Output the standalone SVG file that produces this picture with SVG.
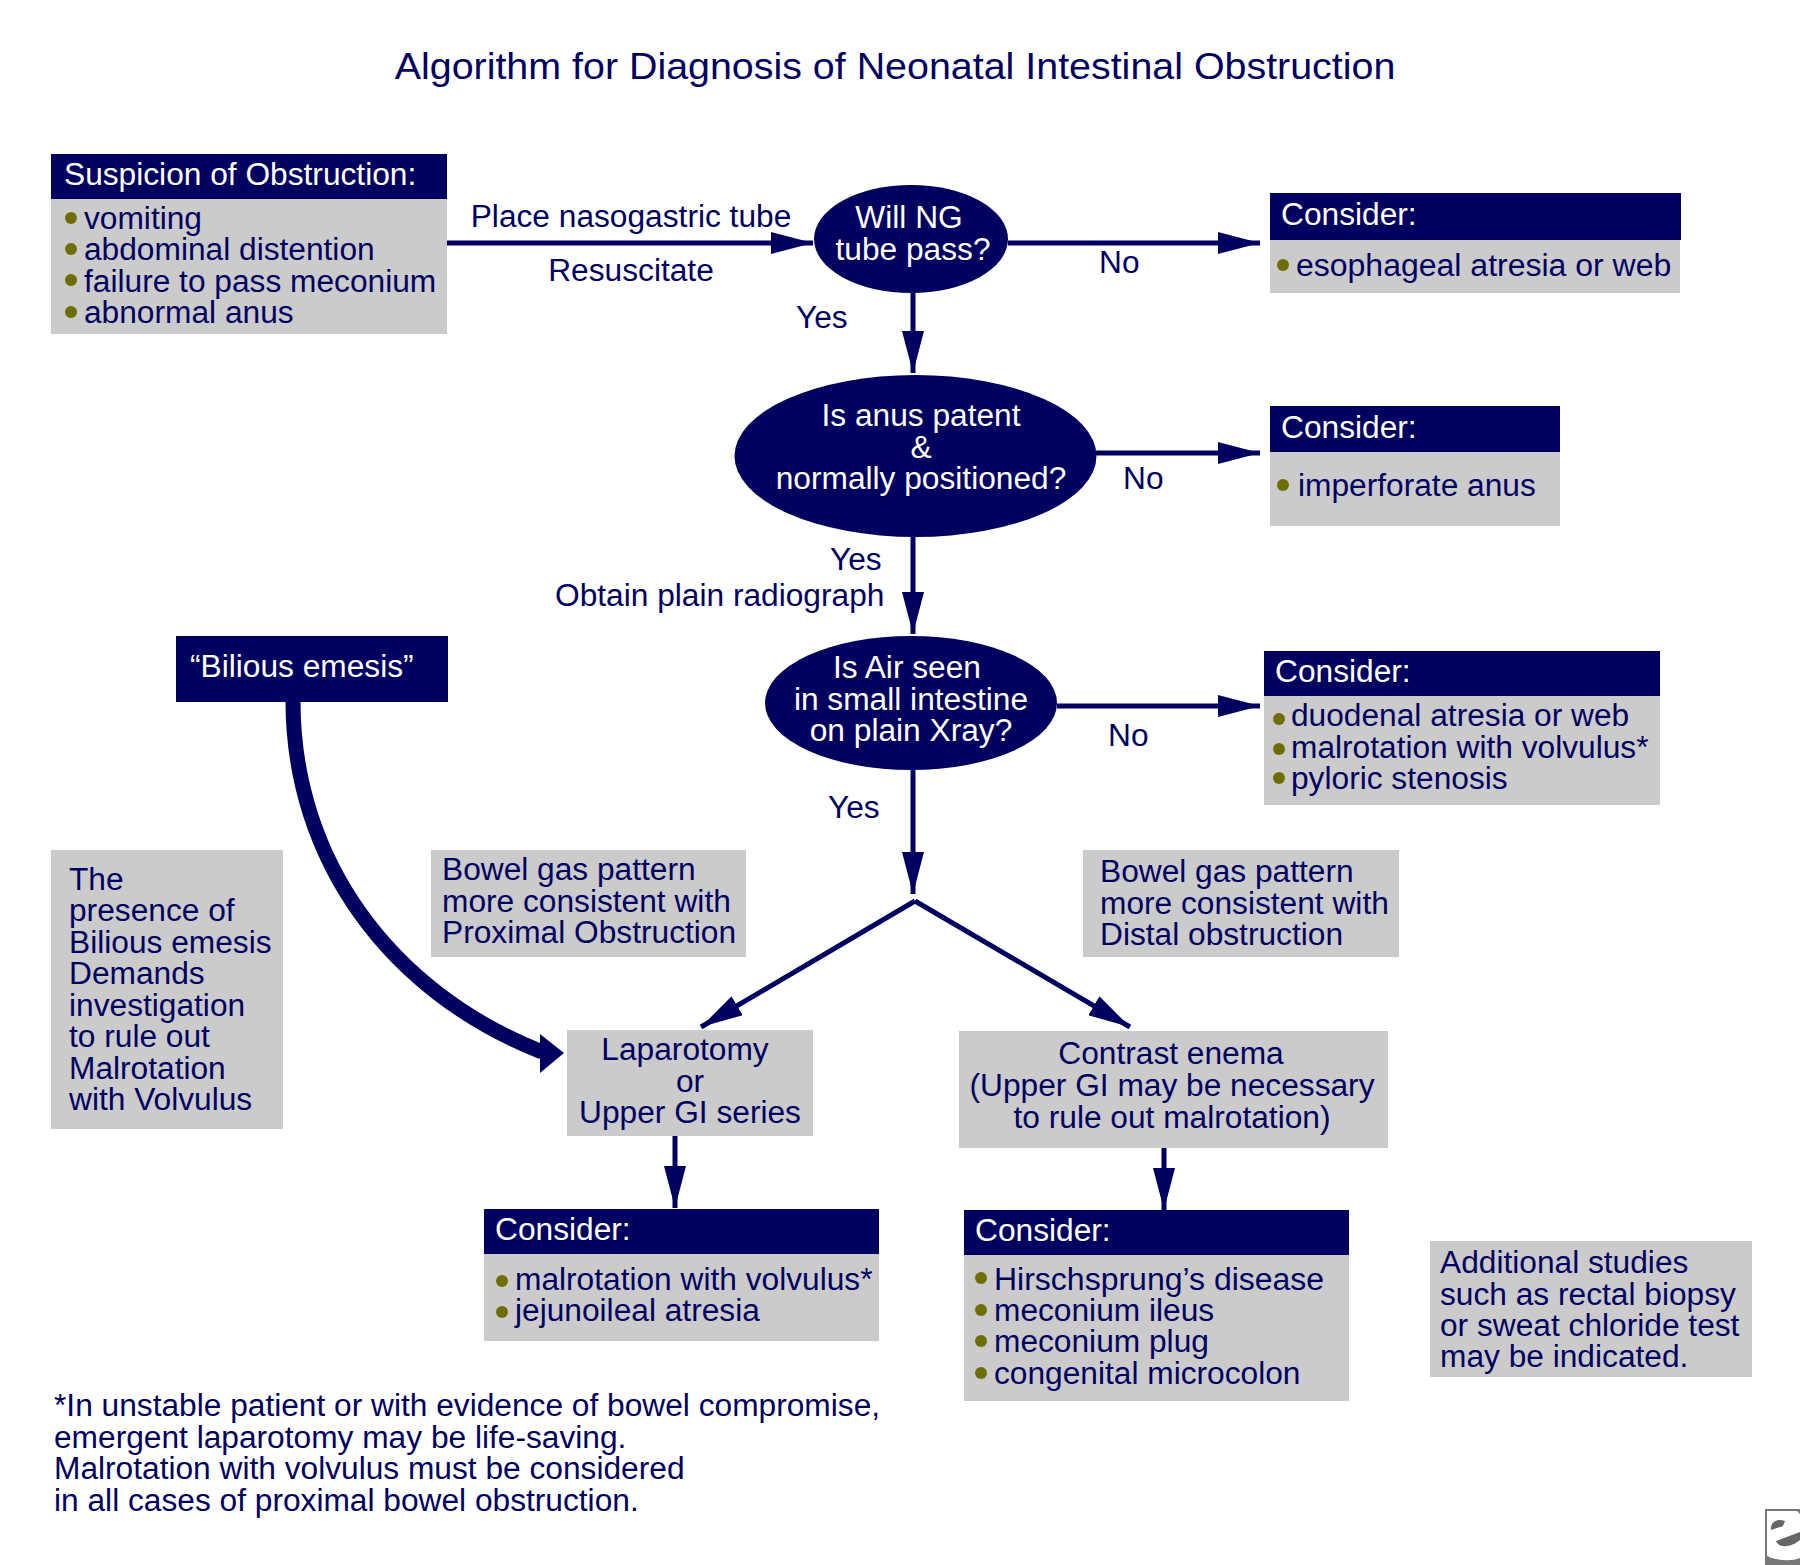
<svg xmlns="http://www.w3.org/2000/svg" width="1800" height="1565" viewBox="0 0 1800 1565">
<style>
text{font-family:"Liberation Sans",Arial,sans-serif;font-size:30.600px;fill:#000060}
.w{fill:#fff}.m{text-anchor:middle}
.h{fill:#000060}.g{fill:#cbcbcb}.b{fill:#6e6e00}
.l{stroke:#000060;fill:none;stroke-width:5}
.t{font-size:37.600px}
</style>
<defs>
<marker id="a" markerUnits="userSpaceOnUse" markerWidth="44" markerHeight="22" refX="42" refY="11" orient="auto"><path d="M0 0L42 11L0 22z" fill="#000060"/></marker>
</defs>
<rect width="1800" height="1565" fill="#fff"/>
<text id="title" class="t m" transform="translate(895 78.500) scale(1.048 1)">Algorithm for Diagnosis of Neonatal Intestinal Obstruction</text>
<g id="connectors">
<path class="l" marker-end="url(#a)" d="M447 243H813"/>
<path class="l" marker-end="url(#a)" d="M1008 243H1260"/>
<path class="l" marker-end="url(#a)" d="M913 293V373"/>
<path class="l" marker-end="url(#a)" d="M1096 453H1260"/>
<path class="l" marker-end="url(#a)" d="M913 537V634"/>
<path class="l" marker-end="url(#a)" d="M1057 706H1260"/>
<path class="l" marker-end="url(#a)" d="M913 770V894"/>
<path class="l" marker-end="url(#a)" d="M915 901L701 1027"/>
<path class="l" marker-end="url(#a)" d="M915 901L1130 1027"/>
<path class="l" marker-end="url(#a)" d="M675 1136V1208"/>
<path class="l" marker-end="url(#a)" d="M1164 1148V1210"/>
<path d="M293 701C293 860 390 992 542 1052" fill="none" stroke="#000060" stroke-width="15"/>
<path class="h" d="M564 1053L540 1034V1073z"/>
</g>
<g id="n-suspicion"><rect class="h" x="51" y="154" width="396" height="45"/><rect class="g" x="51" y="199" width="396" height="135"/>
<text class="w" transform="translate(64 185) scale(1.036 1)">Suspicion of Obstruction:</text>
<circle class="b" cx="71" cy="218" r="6"/><circle class="b" cx="71" cy="249" r="6"/><circle class="b" cx="71" cy="280" r="6"/><circle class="b" cx="71" cy="312" r="6"/>
<text transform="translate(84 229) scale(1.036 1)">vomiting</text><text transform="translate(84 260) scale(1.036 1)">abdominal distention</text><text transform="translate(84 292) scale(1.036 1)">failure to pass meconium</text><text transform="translate(84 323) scale(1.036 1)">abnormal anus</text></g>
<g id="n-ng"><ellipse class="h" cx="911" cy="239" rx="97" ry="54"/><text class="w m" transform="translate(909 228) scale(1.036 1)">Will NG</text><text class="w m" transform="translate(913 260) scale(1.036 1)">tube pass?</text></g>
<g id="n-anus"><ellipse class="h" cx="915.500" cy="456" rx="181" ry="81"/><text class="w m" transform="translate(921 426) scale(1.036 1)">Is anus patent</text><text class="w m" transform="translate(921 458) scale(1.036 1)">&amp;</text><text class="w m" transform="translate(921 489) scale(1.036 1)">normally positioned?</text></g>
<g id="n-air"><ellipse class="h" cx="911" cy="703" rx="146" ry="67"/><text class="w m" transform="translate(907 678) scale(1.036 1)">Is Air seen</text><text class="w m" transform="translate(911 710) scale(1.036 1)">in small intestine</text><text class="w m" transform="translate(911 741) scale(1.036 1)">on plain Xray?</text></g>
<g id="n-c1"><rect class="h" x="1270" y="193" width="411" height="47"/><rect class="g" x="1270" y="240" width="410" height="53"/><text class="w" transform="translate(1281 225) scale(1.036 1)">Consider:</text><circle class="b" cx="1283" cy="265" r="6"/><text transform="translate(1296 276) scale(1.046 1)">esophageal atresia or web</text></g>
<g id="n-c2"><rect class="h" x="1270" y="406" width="290" height="46"/><rect class="g" x="1270" y="452" width="290" height="74"/><text class="w" transform="translate(1281 438) scale(1.036 1)">Consider:</text><circle class="b" cx="1283" cy="485" r="6"/><text transform="translate(1298 496) scale(1.036 1)">imperforate anus</text></g>
<g id="n-c3"><rect class="h" x="1264" y="651" width="396" height="45"/><rect class="g" x="1264" y="696" width="396" height="109"/><text class="w" transform="translate(1275 682) scale(1.036 1)">Consider:</text><circle class="b" cx="1279" cy="719" r="6"/><circle class="b" cx="1279" cy="749" r="6"/><circle class="b" cx="1279" cy="778" r="6"/><text transform="translate(1291 726) scale(1.036 1)">duodenal atresia or web</text><text transform="translate(1291 758) scale(1.036 1)">malrotation with volvulus*</text><text transform="translate(1291 789) scale(1.036 1)">pyloric stenosis</text></g>
<g id="n-bilious"><rect class="h" x="176" y="636" width="272" height="66"/><text class="w" transform="translate(190 677) scale(1.036 1)">“Bilious emesis”</text></g>
<g id="n-presence"><rect class="g" x="51" y="850" width="232" height="279"/><text transform="translate(69 890) scale(1.036 1)">The</text><text transform="translate(69 921) scale(1.036 1)">presence of</text><text transform="translate(69 953) scale(1.036 1)">Bilious emesis</text><text transform="translate(69 984) scale(1.036 1)">Demands</text><text transform="translate(69 1016) scale(1.036 1)">investigation</text><text transform="translate(69 1047) scale(1.036 1)">to rule out</text><text transform="translate(69 1079) scale(1.036 1)">Malrotation</text><text transform="translate(69 1110) scale(1.036 1)">with Volvulus</text></g>
<g id="n-prox"><rect class="g" x="431" y="850" width="315" height="107"/><text transform="translate(442 880) scale(1.036 1)">Bowel gas pattern</text><text transform="translate(442 912) scale(1.036 1)">more consistent with</text><text transform="translate(442 943) scale(1.036 1)">Proximal Obstruction</text></g>
<g id="n-dist"><rect class="g" x="1083" y="850" width="316" height="107"/><text transform="translate(1100 882) scale(1.036 1)">Bowel gas pattern</text><text transform="translate(1100 914) scale(1.036 1)">more consistent with</text><text transform="translate(1100 945) scale(1.036 1)">Distal obstruction</text></g>
<g id="n-lap"><rect class="g" x="567" y="1030" width="246" height="106"/><text class="m" transform="translate(685 1060) scale(1.036 1)">Laparotomy</text><text class="m" transform="translate(690 1092) scale(1.036 1)">or</text><text class="m" transform="translate(690 1123) scale(1.036 1)">Upper GI series</text></g>
<g id="n-enema"><rect class="g" x="959" y="1031" width="429" height="117"/><text class="m" transform="translate(1171 1064) scale(1.036 1)">Contrast enema</text><text class="m" transform="translate(1172 1096) scale(1.036 1)">(Upper GI may be necessary</text><text class="m" transform="translate(1172 1128) scale(1.036 1)">to rule out malrotation)</text></g>
<g id="n-c4"><rect class="h" x="484" y="1209" width="395" height="45"/><rect class="g" x="484" y="1254" width="395" height="87"/><text class="w" transform="translate(495 1240) scale(1.036 1)">Consider:</text><circle class="b" cx="502" cy="1281" r="6"/><circle class="b" cx="502" cy="1312" r="6"/><text transform="translate(515 1290) scale(1.036 1)">malrotation with volvulus*</text><text transform="translate(515 1321) scale(1.036 1)">jejunoileal atresia</text></g>
<g id="n-c5"><rect class="h" x="964" y="1210" width="385" height="45"/><rect class="g" x="964" y="1255" width="385" height="146"/><text class="w" transform="translate(975 1241) scale(1.036 1)">Consider:</text><circle class="b" cx="981" cy="1278" r="6"/><circle class="b" cx="981" cy="1310" r="6"/><circle class="b" cx="981" cy="1341" r="6"/><circle class="b" cx="981" cy="1373" r="6"/><text transform="translate(994 1290) scale(1.046 1)">Hirschsprung’s disease</text><text transform="translate(994 1321) scale(1.036 1)">meconium ileus</text><text transform="translate(994 1352) scale(1.036 1)">meconium plug</text><text transform="translate(994 1384) scale(1.036 1)">congenital microcolon</text></g>
<g id="n-additional"><rect class="g" x="1430" y="1241" width="322" height="136"/><text transform="translate(1440 1273) scale(1.036 1)">Additional studies</text><text transform="translate(1440 1305) scale(1.036 1)">such as rectal biopsy</text><text transform="translate(1440 1336) scale(1.036 1)">or sweat chloride test</text><text transform="translate(1440 1367) scale(1.036 1)">may be indicated.</text></g>
<g id="labels">
<text class="m" transform="translate(631 227) scale(1.036 1)">Place nasogastric tube</text><text class="m" transform="translate(631 281) scale(1.036 1)">Resuscitate</text>
<text transform="translate(796 328) scale(1.036 1)">Yes</text><text transform="translate(1099 273) scale(1.036 1)">No</text><text transform="translate(1123 489) scale(1.036 1)">No</text><text transform="translate(830 570) scale(1.036 1)">Yes</text><text transform="translate(555 606) scale(1.036 1)">Obtain plain radiograph</text><text transform="translate(1108 746) scale(1.036 1)">No</text><text transform="translate(828 818) scale(1.036 1)">Yes</text>
<text transform="translate(54 1416) scale(1.036 1)">*In unstable patient or with evidence of bowel compromise,</text><text transform="translate(54 1448) scale(1.036 1)">emergent laparotomy may be life-saving.</text><text transform="translate(54 1479) scale(1.036 1)">Malrotation with volvulus must be considered</text><text transform="translate(54 1510.500) scale(1.036 1)">in all cases of proximal bowel obstruction.</text>
</g>
<g id="logo"><rect x="1765" y="1509" width="35" height="56" fill="#777"/><path d="M1767 1511H1797L1800 1514V1558C1790 1562 1775 1560 1767 1556z" fill="#fff"/><path d="M1771 1530C1770 1522 1777 1518 1785 1521L1783 1526z" fill="#666"/><path d="M1776 1541L1800 1532V1540C1792 1547 1779 1549 1776 1541z" fill="#666"/></g>
</svg>
